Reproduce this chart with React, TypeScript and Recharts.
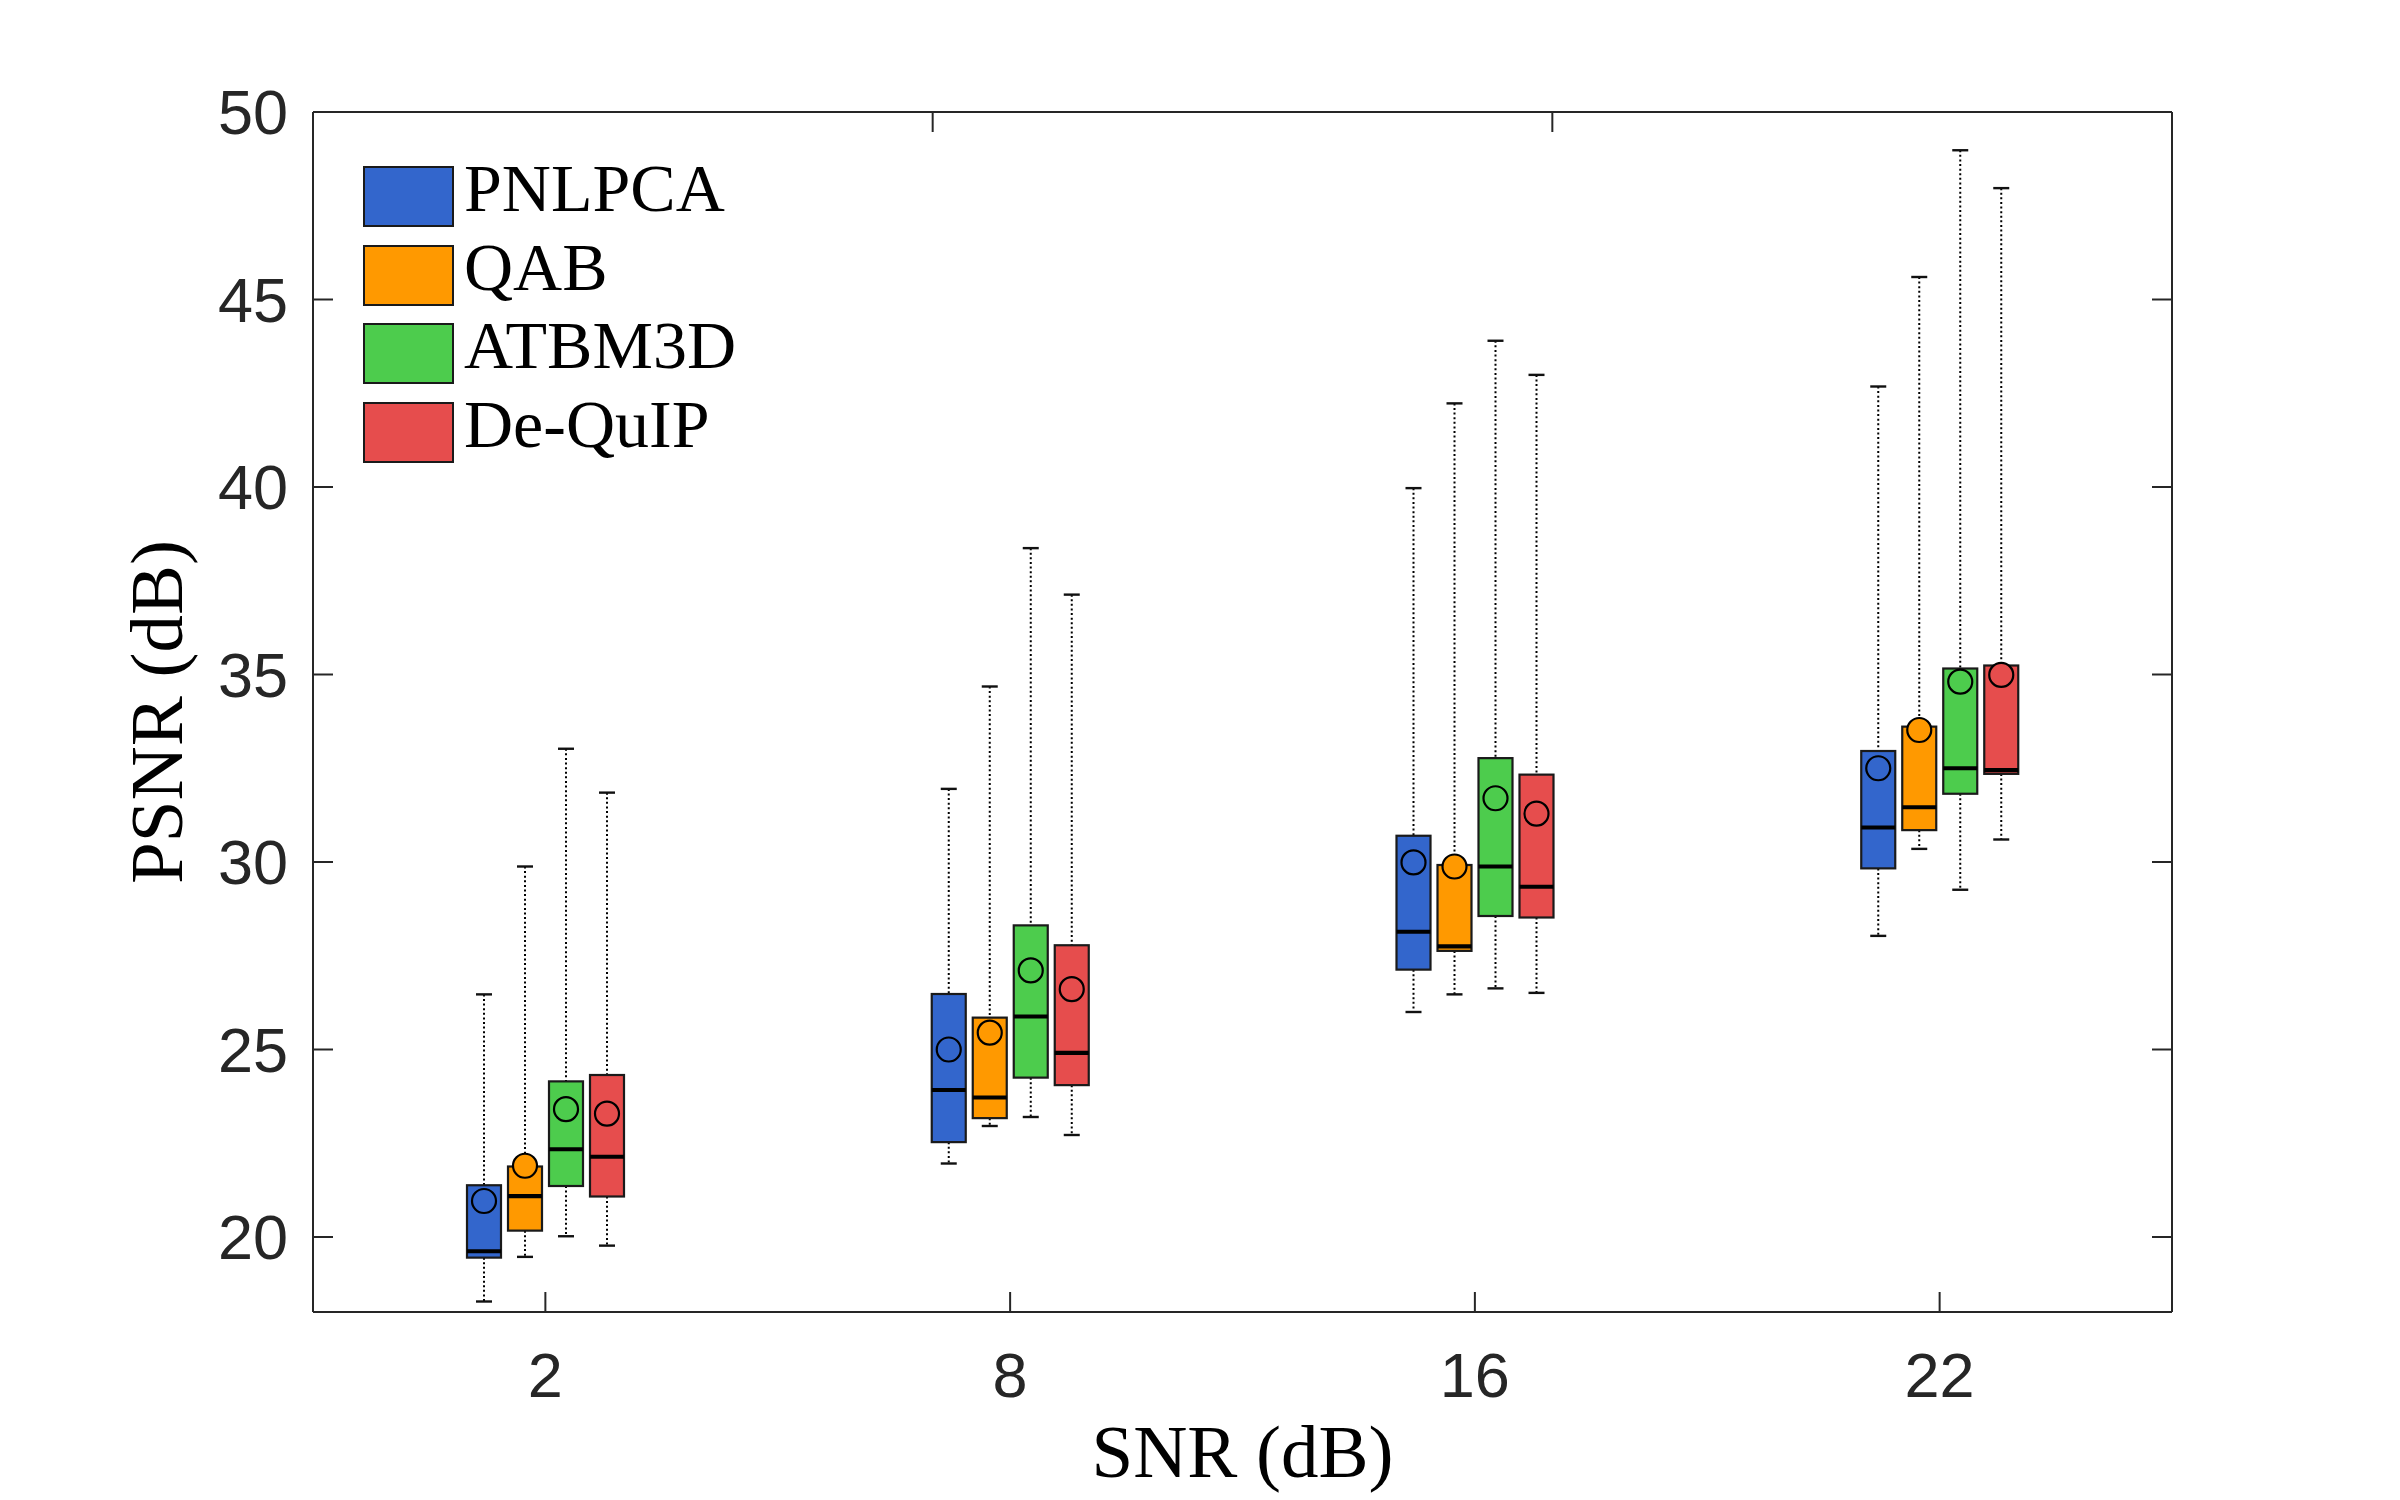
import React from 'react';
import { ComposedChart, Bar, XAxis, YAxis, Legend } from 'recharts';

// ---------- data ----------
const SNR_LABELS = ['2', '8', '16', '22'];
const METHODS = ['PNLPCA', 'QAB', 'ATBM3D', 'De-QuIP'];
const COLORS = ['#3366CC', '#FF9900', '#4DCC4D', '#E64D4D'];
const Y_TICKS = [20, 25, 30, 35, 40, 45, 50];
const Y_DOMAIN = [18, 50];

const PNLPCA_MIN = [18.28, 21.96, 26.0, 28.03];
const PNLPCA_Q1 = [19.45, 22.53, 27.13, 29.83];
const PNLPCA_MEDIAN = [19.62, 23.92, 28.14, 30.92];
const PNLPCA_Q3 = [21.38, 26.48, 30.7, 32.96];
const PNLPCA_MAX = [26.47, 31.95, 39.97, 42.68];
const PNLPCA_MEAN = [20.96, 25.0, 29.99, 32.5];

const QAB_MIN = [19.47, 22.96, 26.47, 30.35];
const QAB_Q1 = [20.17, 23.17, 27.63, 30.85];
const QAB_MEDIAN = [21.09, 23.72, 27.75, 31.46];
const QAB_Q3 = [21.88, 25.85, 29.92, 33.61];
const QAB_MAX = [29.88, 34.68, 42.23, 45.6];
const QAB_MEAN = [21.9, 25.45, 29.88, 33.52];

const ATBM3D_MIN = [20.02, 23.2, 26.63, 29.26];
const ATBM3D_Q1 = [21.36, 24.25, 28.56, 31.82];
const ATBM3D_MEDIAN = [22.34, 25.88, 29.88, 32.5];
const ATBM3D_Q3 = [24.15, 28.31, 32.77, 35.16];
const ATBM3D_MAX = [33.02, 38.37, 43.9, 48.98];
const ATBM3D_MEAN = [23.41, 27.11, 31.7, 34.81];

const DEQUIP_MIN = [19.77, 22.72, 26.51, 30.6];
const DEQUIP_Q1 = [21.08, 24.05, 28.52, 32.35];
const DEQUIP_MEDIAN = [22.14, 24.91, 29.34, 32.45];
const DEQUIP_Q3 = [24.32, 27.78, 32.33, 35.24];
const DEQUIP_MAX = [31.85, 37.13, 42.99, 47.97];
const DEQUIP_MEAN = [23.29, 26.61, 31.29, 34.99];

const STATS: Record<string, any> = {
  PNLPCA: { min: PNLPCA_MIN, q1: PNLPCA_Q1, median: PNLPCA_MEDIAN, q3: PNLPCA_Q3, max: PNLPCA_MAX, mean: PNLPCA_MEAN },
  QAB: { min: QAB_MIN, q1: QAB_Q1, median: QAB_MEDIAN, q3: QAB_Q3, max: QAB_MAX, mean: QAB_MEAN },
  ATBM3D: { min: ATBM3D_MIN, q1: ATBM3D_Q1, median: ATBM3D_MEDIAN, q3: ATBM3D_Q3, max: ATBM3D_MAX, mean: ATBM3D_MEAN },
  'De-QuIP': { min: DEQUIP_MIN, q1: DEQUIP_Q1, median: DEQUIP_MEDIAN, q3: DEQUIP_Q3, max: DEQUIP_MAX, mean: DEQUIP_MEAN },
};

const data = SNR_LABELS.map((snr, i) => {
  const row: any = { snr };
  METHODS.forEach((m) => {
    const s = STATS[m];
    row[m] = [s.q1[i], s.q3[i]];
    row[m + '__stats'] = {
      min: s.min[i], q1: s.q1[i], median: s.median[i], q3: s.q3[i], max: s.max[i], mean: s.mean[i],
    };
  });
  return row;
});

// ---------- styles ----------
const AXIS_COLOR = '#262626';
const SANS = '"Liberation Sans", Arial, Helvetica, sans-serif';
const SERIF = '"Liberation Serif", "Times New Roman", serif';

const renderBox = (props: any, method: string, color: string) => {
  const { x, y, width, height, payload } = props;
  if (!payload) return <g />;
  const st = payload[method + '__stats'];
  const top = Math.min(y, y + height);
  const h = Math.abs(height);
  const k = h / (st.q3 - st.q1);
  const py = (v: number) => top + (st.q3 - v) * k;
  const cx = x + width / 2;
  const yMax = py(st.max);
  const yMin = py(st.min);
  return (
    <g>
      <line x1={cx} x2={cx} y1={yMax} y2={top} stroke="#000" strokeWidth={2} strokeDasharray="2 2.6" />
      <line x1={cx} x2={cx} y1={top + h} y2={yMin} stroke="#000" strokeWidth={2} strokeDasharray="2 2.6" />
      <line x1={cx - 8} x2={cx + 8} y1={yMax} y2={yMax} stroke="#111" strokeWidth={2.4} />
      <line x1={cx - 8} x2={cx + 8} y1={yMin} y2={yMin} stroke="#111" strokeWidth={2.4} />
      <rect x={x} y={top} width={width} height={h} fill={color} stroke="#1a1a1a" strokeWidth={2.2} />
      <line x1={x} x2={x + width} y1={py(st.median)} y2={py(st.median)} stroke="#000" strokeWidth={4.2} />
      <circle cx={cx} cy={py(st.mean)} r={12} fill={color} stroke="#000" strokeWidth={2.2} />
    </g>
  );
};

const LegendContent = (props: any) => {
  const payload = (props && props.payload) || [];
  const items = METHODS.map((m, i) => {
    const found = payload.find((p: any) => p.value === m);
    return { name: m, color: found && found.color ? found.color : COLORS[i] };
  });
  return (
    <div style={{ display: 'flex', flexDirection: 'column' }}>
      {items.map((it: any, i: number) => (
        <div
          key={it.name}
          style={{ display: 'flex', alignItems: 'flex-start', height: 61, marginBottom: i < items.length - 1 ? 17.5 : 0 }}
        >
          <div
            style={{
              width: 91,
              height: 61,
              boxSizing: 'border-box',
              border: '2px solid #1a1a1a',
              background: it.color,
              flex: '0 0 auto',
            }}
          />
          <span
            style={{
              fontFamily: SERIF,
              fontSize: 68,
              lineHeight: '61px',
              color: '#000',
              marginLeft: 10,
              position: 'relative',
              top: -8,
              whiteSpace: 'nowrap',
            }}
          >
            {it.name}
          </span>
        </div>
      ))}
    </div>
  );
};

const XLabel = (p: any) => {
  const vb = p && p.viewBox;
  if (!vb) return null;
  return (
    <text x={vb.x + vb.width / 2} y={vb.y + 165} textAnchor="middle" fontFamily={SERIF} fontSize={75} fill="#000">
      SNR (dB)
    </text>
  );
};

const YLabel = (p: any) => {
  const vb = p && p.viewBox;
  if (!vb) return null;
  const cx = vb.x + 19;
  const cy = vb.y + vb.height / 2;
  return (
    <text
      x={cx}
      y={cy}
      transform={`rotate(-90 ${cx} ${cy})`}
      textAnchor="middle"
      fontFamily={SERIF}
      fontSize={75}
      fill="#000"
    >
      PSNR (dB)
    </text>
  );
};

export default function App() {
  return (
    <div style={{ position: 'absolute', left: 0, top: 0, width: 2400, height: 1500, background: '#fff' }}>
      <ComposedChart
        width={2400}
        height={1500}
        data={data}
        margin={{ top: 92, right: 208, bottom: 68, left: 163 }}
        barGap={7}
      >
        <XAxis
          dataKey="snr"
          height={120}
          interval={0}
          stroke={AXIS_COLOR}
          axisLine={{ stroke: AXIS_COLOR, strokeWidth: 2 }}
          tickLine={{ stroke: AXIS_COLOR, strokeWidth: 2 }}
          tickSize={-20}
          tickMargin={60}
          tick={{ fontSize: 63, fill: AXIS_COLOR, fontFamily: SANS }}
          label={XLabel}
        />
        <XAxis
          xAxisId="top"
          orientation="top"
          type="number"
          domain={[0.5, 4.5]}
          ticks={[1, 2, 3, 4]}
          allowDataOverflow
          height={20}
          interval={0}
          stroke={AXIS_COLOR}
          axisLine={{ stroke: AXIS_COLOR, strokeWidth: 2 }}
          tickLine={{ stroke: AXIS_COLOR, strokeWidth: 2 }}
          tickSize={-20}
          tick={() => <g />}
        />
        <YAxis
          type="number"
          domain={Y_DOMAIN}
          ticks={Y_TICKS}
          allowDataOverflow
          width={150}
          interval={0}
          stroke={AXIS_COLOR}
          axisLine={{ stroke: AXIS_COLOR, strokeWidth: 2 }}
          tickLine={{ stroke: AXIS_COLOR, strokeWidth: 2 }}
          tickSize={-20}
          tickMargin={45}
          tick={{ fontSize: 63, fill: AXIS_COLOR, fontFamily: SANS }}
          label={YLabel}
        />
        <YAxis
          yAxisId="right"
          orientation="right"
          type="number"
          domain={Y_DOMAIN}
          ticks={Y_TICKS}
          allowDataOverflow
          width={20}
          interval={0}
          stroke={AXIS_COLOR}
          axisLine={{ stroke: AXIS_COLOR, strokeWidth: 2 }}
          tickLine={{ stroke: AXIS_COLOR, strokeWidth: 2 }}
          tickSize={-20}
          tick={() => <g />}
        />
        <Legend
          layout="horizontal"
          verticalAlign="middle"
          align="center"
          content={LegendContent}
          wrapperStyle={{ left: 363, top: 166, width: 'auto', height: 'auto' }}
        />
        {METHODS.map((m, i) => (
          <Bar
            key={m}
            dataKey={m}
            name={m}
            fill={COLORS[i]}
            barSize={34}
            isAnimationActive={false}
            shape={(p: any) => renderBox(p, m, COLORS[i])}
          />
        ))}
      </ComposedChart>
    </div>
  );
}
